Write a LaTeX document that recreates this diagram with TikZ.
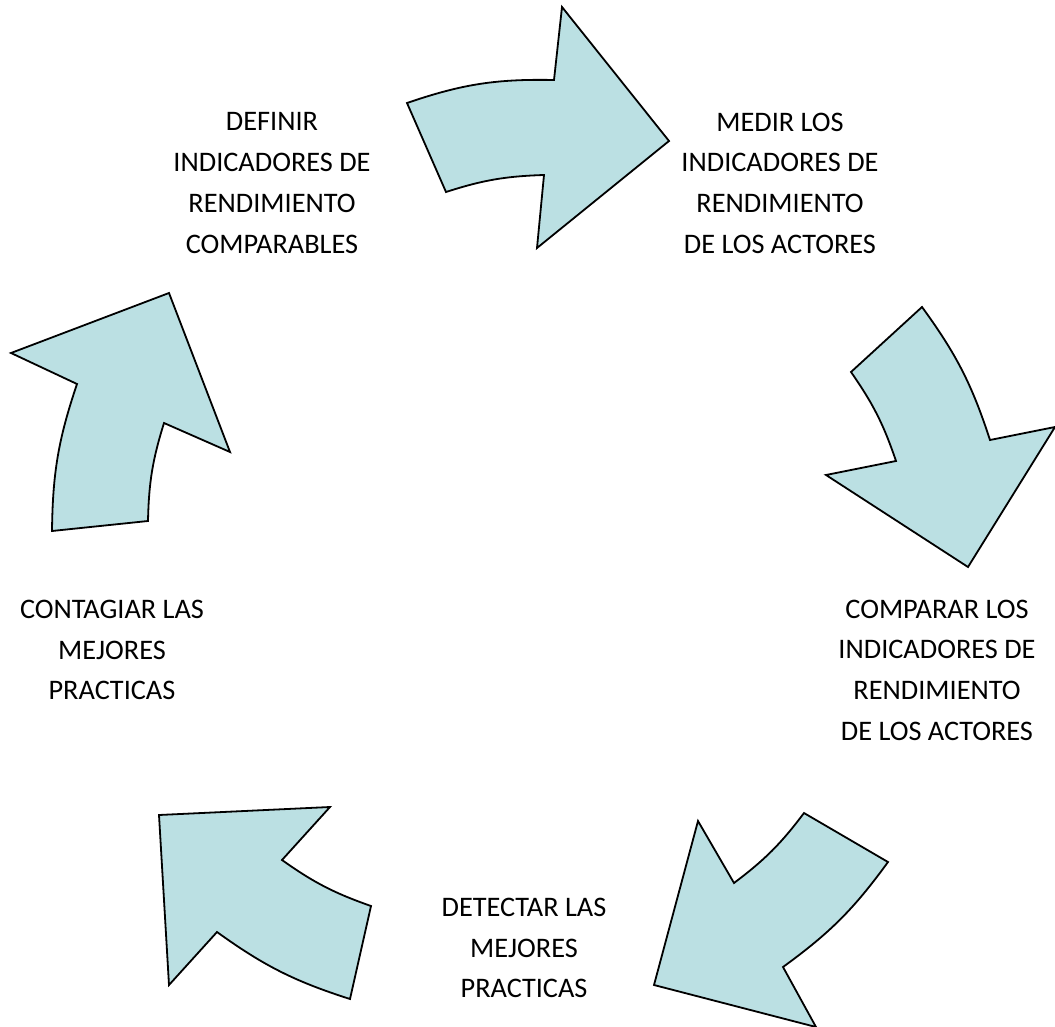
\documentclass[tikz,border=0pt]{standalone}
\usepackage{fontspec}
\setmainfont{Carlito}
\definecolor{celeste}{RGB}{187,224,227}
\tikzset{
    flecha/.style={draw=black, fill=celeste, line width=1.8pt, line join=miter},
    paso/.style={align=center, inner sep=0pt, font=\fontsize{28.3}{40.7}\selectfont}
  }

\begin{document}
\begin{tikzpicture}[x=1pt,y=-1pt]
    \useasboundingbox (0,0) rectangle (1055,1027);

    \node[paso] (definir) at (272,183) {DEFINIR\\INDICADORES DE\\RENDIMIENTO\\COMPARABLES};
    \node[paso] (medir) at (780,183) {MEDIR LOS\\INDICADORES DE\\RENDIMIENTO\\DE LOS ACTORES};
    \node[paso] (comparar) at (937,670) {COMPARAR LOS\\INDICADORES DE\\RENDIMIENTO\\DE LOS ACTORES};
    \node[paso] (detectar) at (524,948) {DETECTAR LAS\\MEJORES\\PRACTICAS};
    \node[paso] (contagiar) at (112,650) {CONTAGIAR LAS\\MEJORES\\PRACTICAS};

    \draw[flecha] (407,103) to[bend left=10] (554,80) -- (562,7) -- (669,141)
      -- (537,248) -- (544,175) to[bend right=8] (446,192) -- cycle;
    \draw[flecha] (922,307) -- (851,372) to[bend left=8] (896,461) -- (826,475)
      -- (968,567) -- (1055,427) -- (990,440) to[bend right=9] (922,307) -- cycle;
    \draw[flecha] (888,862) -- (804,813) to[bend left=8] (734,883) -- (698,821)
      -- (654,985) -- (816,1027) -- (783,967) to[bend right=9] (888,862) -- cycle;
    \draw[flecha] (350,999) -- (371,906) to[bend left=8] (282,860) -- (330,807)
      -- (159,815) -- (169,985) -- (217,932) to[bend right=9] (350,999) -- cycle;
    \draw[flecha] (52,531) -- (148,521) to[bend left=8] (164,423) -- (230,452)
      -- (169,293) -- (11,353) -- (77,384) to[bend right=9] (52,531) -- cycle;

  \end{tikzpicture}
\end{document}
